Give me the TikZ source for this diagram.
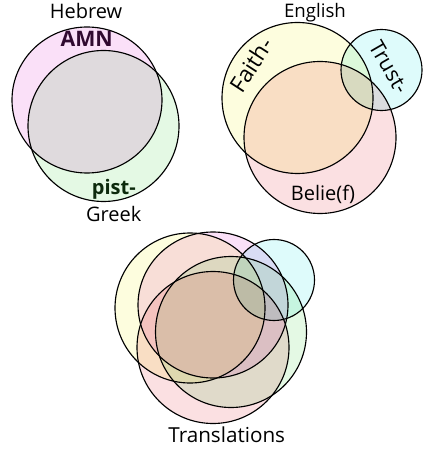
\documentclass[tikz,border=0pt]{standalone}
\usepackage{fontspec}
\setmainfont{Open Sans}
\definecolor{heb}{RGB}{250,224,248}
\definecolor{grk}{RGB}{228,249,228}
\definecolor{fai}{RGB}{253,253,222}
\definecolor{bel}{RGB}{251,224,226}
\definecolor{tru}{RGB}{222,251,251}
\definecolor{amncol}{RGB}{48,10,48}
\definecolor{pistcol}{RGB}{12,42,12}
\begin{document}
\begin{tikzpicture}[x=0.75pt,y=-0.75pt,
  ring/.style={draw=black,line width=0.85pt},
  lbl/.style={inner sep=0pt,anchor=base,font=\fontsize{15}{18}\selectfont},
  bold lbl/.style={inner sep=0pt,anchor=base,font=\bfseries\fontsize{15.5}{18}\selectfont},
  slanted/.style={inner sep=0pt,font=\fontsize{17}{20}\selectfont}]
\useasboundingbox (0,0) rectangle (432,459);
\fill[white] (0,0) rectangle (432,459);
\begin{scope}[blend mode=multiply]
  % Hebrew / Greek
  \draw[ring,fill=heb] (87,100) ellipse [x radius=75,y radius=73];
  \draw[ring,fill=grk] (103.5,126) circle [radius=75.5];
  % English
  \draw[ring,fill=fai] (297.5,98) circle [radius=75.5];
  \draw[ring,fill=bel] (320,137.5) circle [radius=76];
  \draw[ring,fill=tru] (381.5,70) circle [radius=40.5];
  % Translations
  \draw[ring,fill=fai] (190,308) circle [radius=75];
  \draw[ring,fill=heb] (213,305) ellipse [x radius=75,y radius=73];
  \draw[ring,fill=bel] (213,347.5) circle [radius=76];
  \draw[ring,fill=grk] (231,332) circle [radius=75.5];
  \draw[ring,fill=tru] (274,280) circle [radius=40.5];
\end{scope}
\node[lbl] (hebrew) at (86,18.5) {Hebrew};
\node[bold lbl,text=amncol,font=\bfseries\fontsize{16}{18}\selectfont] (amn) at (86.7,46.5) {AMN};
\node[bold lbl,text=pistcol,font=\bfseries\fontsize{15}{18}\selectfont] (pist) at (113.8,195) {pist-};
\node[lbl] (greek) at (113.8,221.5) {Greek};
\node[lbl,font=\fontsize{14}{17}\selectfont] (english) at (315,17.5) {English};
\node[slanted,rotate=57] (faith) at (251,65) {Faith-};
\node[slanted,rotate=-60,font=\fontsize{16}{19}\selectfont] (trust) at (389,67) {Trust-};
\node[lbl] (belief) at (323,200) {Belie(f)};
\node[lbl,font=\fontsize{15.5}{18}\selectfont] (translations) at (226.7,442.5) {Translations};
\end{tikzpicture}
\end{document}
